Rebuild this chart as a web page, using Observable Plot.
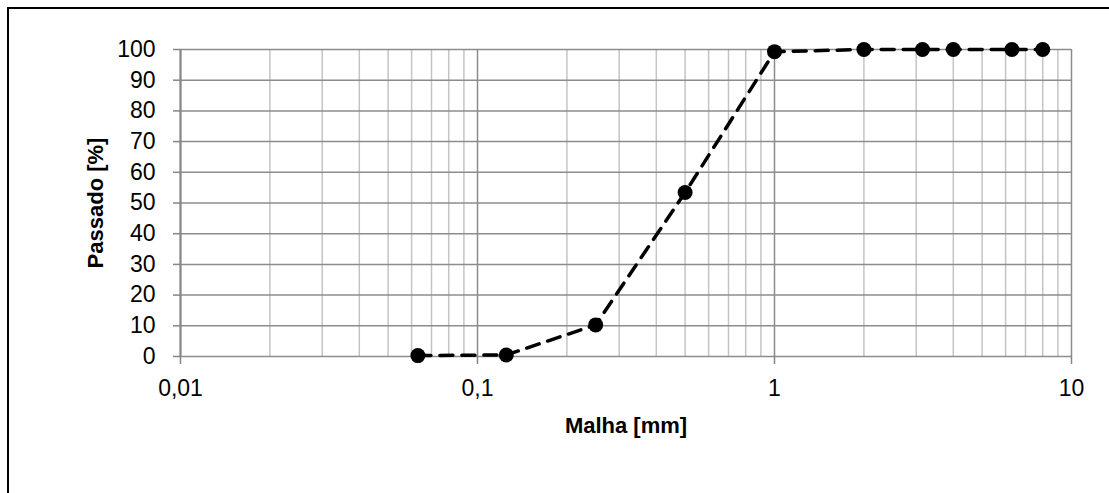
<!DOCTYPE html>
<html>
<head>
<meta charset="utf-8">
<script src="https://cdn.jsdelivr.net/npm/d3@7"></script>
<script src="https://cdn.jsdelivr.net/npm/@observablehq/plot@0.6"></script>
<style>
  html, body { margin: 0; padding: 0; background: #fff; }
  #wrap { position: relative; width: 1109px; height: 493px; overflow: hidden; }
  #frame { position: absolute; left: 7px; top: 7px; width: 1200px; height: 600px;
           border-left: 2px solid #000; border-top: 2px solid #000; pointer-events: none; }
  #chart { position: absolute; left: 0; top: 0; }
</style>
</head>
<body>
<div id="wrap">
  <div id="chart"></div>
  <div id="frame"></div>
</div>
<script>
// Sieve openings (mm) and cumulative percent passing
const malha = [0.063, 0.125, 0.25, 0.5, 1, 2, 3.15, 4, 6.3, 8];
const passado = [0.3, 0.5, 10.3, 53.4, 99.3, 100, 100, 100, 100, 100];

// Axis ticks
const decades = [0.01, 0.1, 1, 10];
const yTicks = [0, 10, 20, 30, 40, 50, 60, 70, 80, 90, 100];

const data = malha.map((m, i) => ({malha: m, passado: passado[i]}));

// Minor log grid lines: 2..9 within each decade
const minor = decades.slice(0, -1).flatMap(d => d3.range(2, 10).map(k => k * d));

const font = "'Liberation Sans', Arial, sans-serif";

const chart = Plot.plot({
  width: 1109,
  height: 493,
  marginLeft: 180,
  marginRight: 38,
  marginTop: 49,
  marginBottom: 137,
  style: {fontFamily: font, background: "transparent", color: "#000", overflow: "visible"},
  x: {type: "log", domain: [0.01, 10]},
  y: {domain: [0, 100]},
  marks: [
    Plot.ruleX(minor, {stroke: "#c4c4c4", strokeWidth: 1.5}),
    Plot.ruleX(decades, {stroke: "#8c8c8c", strokeWidth: 1.5}),
    Plot.ruleY(yTicks, {stroke: "#8c8c8c", strokeWidth: 1.5}),
    Plot.ruleX([0.01], {stroke: "#868686", strokeWidth: 2}),
    Plot.axisY({ticks: yTicks, tickSize: 7, tickPadding: 18, fontSize: 23, stroke: "#868686", strokeWidth: 1.5, label: null}),
    Plot.axisX({ticks: decades, tickSize: 8, tickPadding: 15, fontSize: 23, stroke: "#868686", strokeWidth: 1.5,
                tickFormat: d => String(d).replace(".", ","), label: null}),
    Plot.line(data, {x: "malha", y: "passado", stroke: "#000", strokeWidth: 3.5, strokeDasharray: "13,9"}),
    Plot.dot(data, {x: "malha", y: "passado", r: 7.5, fill: "#000", stroke: "none"}),
    Plot.text(["Malha [mm]"], {frameAnchor: "bottom", dy: 69, textAnchor: "middle", lineAnchor: "middle", fontSize: 22, fontWeight: "bold", fill: "#000"}),
    Plot.text(["Passado [%]"], {frameAnchor: "left", dx: -85, rotate: -90, textAnchor: "middle", lineAnchor: "middle", fontSize: 22, fontWeight: "bold", fill: "#000"})
  ]
});

document.getElementById("chart").appendChild(chart);
</script>
</body>
</html>
